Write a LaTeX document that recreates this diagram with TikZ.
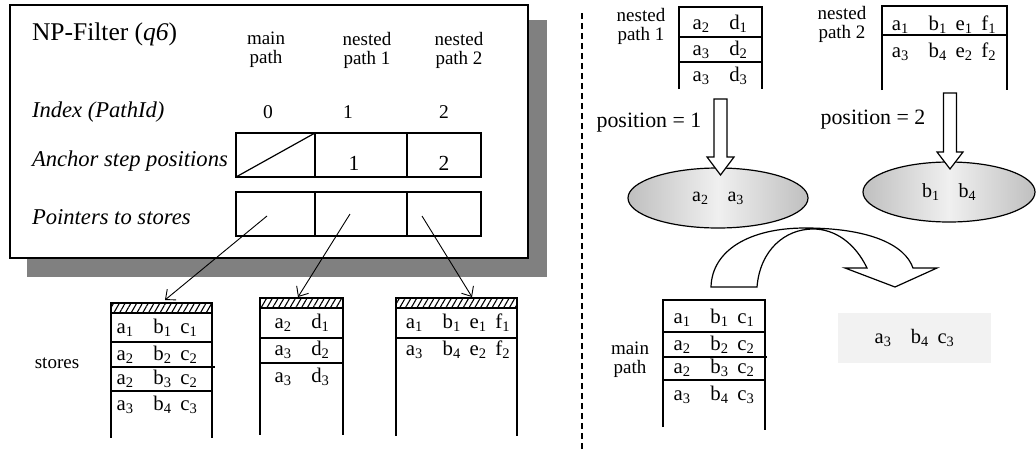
\documentclass[tikz,border=0pt]{standalone}
\usepackage{fontspec}
\setmainfont{Liberation Serif}
\usetikzlibrary{patterns.meta,arrows.meta,shapes.geometric}
\newcommand\sbs[2]{#1\textsubscript{#2}}
\newcommand\fsz[1]{\fontsize{#1}{#1}\selectfont}
\newcommand\gA{\hspace{0.95em}}
\newcommand\gB{\hspace{0.42em}}
\begin{document}
\begin{tikzpicture}[x=1pt,y=-1pt,
  every node/.style={inner sep=0pt, outer sep=0pt},
  cellbox/.style={draw, line width=1.3pt, minimum height=44pt},
  hatchbar/.style={draw, line width=1.2pt, pattern={Lines[angle=60,distance=5pt,line width=1.1pt]}, minimum height=10pt},
  tline/.style={line width=1.3pt},
  ttxt/.style={font=\fsz{20.8}},
  lbl/.style={font=\fsz{19}, align=center},
  ilbl/.style={font=\fsz{22.6}\itshape, anchor=west},
  numtxt/.style={font=\fsz{19.5}},
  ptr/.style={line width=0.9pt, -{Straight Barb[length=8pt,width=14pt,line width=0.9pt]}},
  blk/.style={draw, fill=white, line width=1.2pt, line join=miter},
  oval/.style={ellipse, draw, line width=1.2pt, left color=gray!50, right color=gray!50, middle color=gray!12, font=\fsz{20}},
]
\useasboundingbox (0,0) rectangle (1036,450);

% ---------- left panel ----------
\fill[gray] (27,20) rectangle (547,277);
\draw[fill=white, line width=1.3pt] (10,5) rectangle (528,258);

\node[anchor=west, font=\fsz{25.5}] (title) at (32,34) {NP-Filter (\textit{q6})};
\node[lbl] (hmain) at (266,50) {main\\path};
\node[lbl] (hn1) at (367,50) {nested\\path 1};
\node[lbl] (hn2) at (459,50) {nested\\path 2};

\node[ilbl] (lidx) at (32,112) {Index (PathId)};
\node[numtxt] (i0) at (268,112) {0};
\node[numtxt] (i1) at (348,112) {1};
\node[numtxt] (i2) at (444,112) {2};

\node[ilbl] (lanc) at (32,161) {Anchor step positions};
\node[cellbox, minimum width=79pt] (a0) at (275.5,155) {};
\node[cellbox, minimum width=92pt] (a1) at (361,155) {};
\node[cellbox, minimum width=74pt] (a2) at (444,155) {};
\draw[line width=1.2pt] (a0.south west) -- (a0.north east);
\node[font=\fsz{21.5}] (a1t) at (354,163) {1};
\node[font=\fsz{21.5}] (a2t) at (444,163) {2};

\node[ilbl] (lptr) at (32,217) {Pointers to stores};
\node[cellbox, minimum width=79pt] (p0) at (275.5,214) {};
\node[cellbox, minimum width=92pt] (p1) at (361,214) {};
\node[cellbox, minimum width=74pt] (p2) at (444,214) {};

% stores
\node[font=\fsz{19}] (stores) at (57,363) {stores};

\node[hatchbar, minimum width=101pt] (bar1) at (161.5,308) {};
\draw[tline] (bar1.south west) -- (111,438);
\draw[tline] (bar1.south east) -- (212,438);
\draw[tline] (111,342) -- (212,342);
\draw[tline] (111,367) -- (215,367);
\draw[tline] (111,391) -- (212,391);
\node[ttxt] (s1r1) at (157,328) {\sbs{a}{1}\gA\sbs{b}{1}\gB\sbs{c}{1}};
\node[ttxt] (s1r2) at (157,355) {\sbs{a}{2}\gA\sbs{b}{2}\gB\sbs{c}{2}};
\node[ttxt] (s1r3) at (157,379) {\sbs{a}{2}\gA\sbs{b}{3}\gB\sbs{c}{2}};
\node[ttxt] (s1r4) at (157,405) {\sbs{a}{3}\gA\sbs{b}{4}\gB\sbs{c}{3}};

\node[hatchbar, minimum width=83pt] (bar2) at (301.5,303) {};
\draw[tline] (bar2.south west) -- (260,435);
\draw[tline] (bar2.south east) -- (343,435);
\draw[tline] (260,338) -- (343,338);
\draw[tline] (260,363) -- (343,363);
\node[ttxt] (s2r1) at (302,323) {\sbs{a}{2}\gA\sbs{d}{1}};
\node[ttxt] (s2r2) at (302,350) {\sbs{a}{3}\gA\sbs{d}{2}};
\node[ttxt] (s2r3) at (302,377) {\sbs{a}{3}\gA\sbs{d}{3}};

\node[hatchbar, minimum width=121pt] (bar3) at (456.5,303) {};
\draw[tline] (bar3.south west) -- (396,436);
\draw[tline] (bar3.south east) -- (517,436);
\draw[tline] (396,338) -- (517,338);
\node[ttxt] (s3r1) at (458,323) {\sbs{a}{1}\gA\sbs{b}{1}\gB\sbs{e}{1}\gB\sbs{f}{1}};
\node[ttxt] (s3r2) at (458,350) {\sbs{a}{3}\gA\sbs{b}{4}\gB\sbs{e}{2}\gB\sbs{f}{2}};

% pointers
\draw[ptr] ([shift={(-8.5pt,-2pt)}]p0.center) -- ([shift={(3.5pt,3pt)}]bar1.north);
\draw[ptr] ([shift={(-11pt,0pt)}]p1.center) -- ([shift={(-3.5pt,1pt)}]bar2.north);
\draw[ptr] ([shift={(-22pt,-2pt)}]p2.center) -- ([shift={(15.5pt,1pt)}]bar3.north);

% separator
\draw[dash pattern=on 6pt off 4pt, line width=1.3pt] (582,13) -- (582,450);

% ---------- right panel ----------
\node[lbl] (rn1) at (641,26) {nested\\path 1};
\draw[tline] (679,89) -- (679,7) -- (762,7) -- (762,89);
\draw[tline] (679,37) -- (762,37);
\draw[tline] (679,62) -- (762,62);
\node[ttxt] (n1r1) at (720,24) {\sbs{a}{2}\gA\sbs{d}{1}};
\node[ttxt] (n1r2) at (720,50) {\sbs{a}{3}\gA\sbs{d}{2}};
\node[ttxt] (n1r3) at (720,76) {\sbs{a}{3}\gA\sbs{d}{3}};

\node[lbl] (rn2) at (842,24) {nested\\path 2};
\draw[tline] (882,90) -- (882,6) -- (1007,6) -- (1007,90);
\draw[tline] (882,35) -- (1007,35);
\node[ttxt] (n2r1) at (944,25) {\sbs{a}{1}\gA\sbs{b}{1}\gB\sbs{e}{1}\gB\sbs{f}{1}};
\node[ttxt] (n2r2) at (944,52) {\sbs{a}{3}\gA\sbs{b}{4}\gB\sbs{e}{2}\gB\sbs{f}{2}};

\node[font=\fsz{21.9}] (pos1) at (649,123) {position = 1};
\node[font=\fsz{21.9}] (pos2) at (873,120) {position = 2};

\node[oval, minimum width=180pt, minimum height=60pt] (e1) at (718,198) {\sbs{a}{2}\gA\sbs{a}{3}};
\node[oval, minimum width=172pt, minimum height=60pt] (e2) at (949,192) {\sbs{b}{1}\gA\sbs{b}{4}};

\path (e1.north) ++(2.5,7) coordinate (t1);
\draw[blk] (t1) ++(-6.5,-76) -- ++(13,0) -- ++(0,58) -- ++(7,0) -- (t1) -- ++(-13.5,-18) -- ++(7,0) -- cycle;
\path (e2.north) ++(1,7) coordinate (t2);
\draw[blk] (t2) ++(-6.5,-76) -- ++(13,0) -- ++(0,59) -- ++(6.5,0) -- (t2) -- ++(-13,-17) -- ++(6.5,0) -- cycle;

% curved arrow
\draw[blk] (711,287) .. controls (712,250) and (750,228) .. (805,228)
  .. controls (870,228) and (905,245) .. (913,268) -- (937,268) -- (895,287) -- (845,268) -- (867,268)
  .. controls (855,243) and (835,229) .. (813,229)
  .. controls (785,229) and (760,250) .. (757,287) -- cycle;

\node[lbl] (rmain) at (630,360) {main\\path};
\draw[tline] (663,427) -- (663,300) -- (765,300) -- (765,430);
\draw[tline] (663,332) -- (765,332);
\draw[tline] (663,357) -- (767,357);
\draw[tline] (663,380) -- (765,380);
\node[ttxt] (m1) at (714,318) {\sbs{a}{1}\gA\sbs{b}{1}\gB\sbs{c}{1}};
\node[ttxt] (m2) at (714,345) {\sbs{a}{2}\gA\sbs{b}{2}\gB\sbs{c}{2}};
\node[ttxt] (m3) at (714,368) {\sbs{a}{2}\gA\sbs{b}{3}\gB\sbs{c}{2}};
\node[ttxt] (m4) at (714,395) {\sbs{a}{3}\gA\sbs{b}{4}\gB\sbs{c}{3}};

\node[fill=gray!10, minimum width=153pt, minimum height=50pt, font=\fsz{20.5}] (res) at (914.5,338)
  {\sbs{a}{3}\gA\sbs{b}{4}\gB\sbs{c}{3}};
\end{tikzpicture}
\end{document}
